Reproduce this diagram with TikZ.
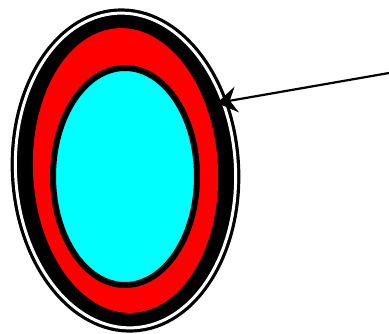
\documentclass[tikz,border=0pt]{standalone}
\usetikzlibrary{arrows.meta,shapes.geometric}
\definecolor{aqua}{RGB}{0,255,255}
\definecolor{pure red}{RGB}{255,0,0}
\begin{document}
\begin{tikzpicture}[x=1pt,y=1pt,
  ring/.style={ellipse, inner sep=0pt, outer sep=0pt},
  pointer/.style={line width=2.2pt, -{Stealth[length=20pt,width=26pt,inset=7pt]}}]
\useasboundingbox (0,-334) rectangle (389,0);
\node[ring, draw=black, line width=3.2pt, double=white, double distance=3pt, fill=black,
      minimum width=220pt, minimum height=315pt, rotate=3] (outer) at (125.5,-170.5) {};
\node[ring, fill=pure red, minimum width=185pt, minimum height=285pt, rotate=3] (band) at (125.5,-170.5) {};
\node[ring, draw=black, line width=6pt, fill=aqua, minimum width=144pt, minimum height=217pt] (core) at (125,-176.5) {};
\coordinate (from) at (389,-73);
\coordinate (tip) at (217,-103);
\draw[pointer] (from) -- (tip);
\end{tikzpicture}
\end{document}
